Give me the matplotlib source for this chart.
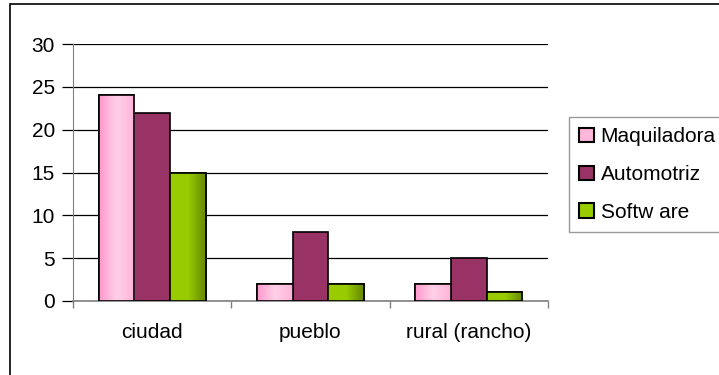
import numpy as np
import matplotlib
matplotlib.use("Agg")
import matplotlib.pyplot as plt
from matplotlib.patches import Rectangle
from matplotlib.colors import LinearSegmentedColormap

# data
categories = ["ciudad", "pueblo", "rural (rancho)"]
series_names = ["Maquiladora", "Automotriz", "Softw are"]
maquiladora = [24, 2, 2]
automotriz = [22, 8, 5]
software = [15, 2, 1]
yticks = [0, 5, 10, 15, 20, 25, 30]

colors = ["#FFB6DB", "#993366", "#99CC00"]
# horizontal shading like the Excel gradient fills (None = flat)
shades = [["#FF99CC", "#FFD1E8", "#FFB3D9"], None, ["#99CC00", "#99CC00", "#668800"]]

plt.rcParams["font.family"] = ["Liberation Sans", "DejaVu Sans"]

W, H = 719, 375
fig = plt.figure(figsize=(W / 100, H / 100), dpi=100)

# outer chart frame (cut off on the right and bottom)
fig.patches.append(Rectangle((10 / W, -0.1), 1.2, 1.1 - 4 / H, transform=fig.transFigure,
                             fill=False, edgecolor="black", linewidth=1.2))

ax = fig.add_axes([73 / W, (H - 301) / H, (548 - 73) / W, (301 - 44) / H])

width = 0.225
x = np.arange(len(categories)) + 0.5
grad = np.linspace(0, 1, 64).reshape(1, -1)
for i, (vals, name) in enumerate(zip([maquiladora, automotriz, software], series_names)):
    bars = ax.bar(x + (i - 1) * width, vals, width, color=colors[i], edgecolor="black",
                  linewidth=1.2, label=name, zorder=3)
    if shades[i] is None:
        continue
    cmap = LinearSegmentedColormap.from_list("s%d" % i, shades[i])
    for b in bars:
        x0, y0 = b.get_x(), b.get_y()
        im = ax.imshow(grad, cmap=cmap, aspect="auto", zorder=3.5,
                       extent=(x0, x0 + b.get_width(), y0, y0 + b.get_height()))
        im.set_clip_path(b)
        # redraw the outline on top of the shading
        ax.add_patch(Rectangle((x0, y0), b.get_width(), b.get_height(), fill=False,
                               edgecolor="black", linewidth=1.2, zorder=4))

ax.set_xlim(0, 3)
ax.set_ylim(0, 30)
ax.set_yticks(yticks)
ax.yaxis.grid(True, color="black", linewidth=0.9, zorder=0)
ax.tick_params(axis="y", direction="out", length=8, width=0.9, color="black",
               labelsize=15, pad=5)

ax.set_xticks([0, 1, 2, 3])
ax.set_xticklabels([])
ax.set_xticks(x, minor=True)
ax.set_xticklabels(categories, minor=True)
ax.tick_params(axis="x", which="major", direction="out", length=5, width=1, color="#808080")
ax.tick_params(axis="x", which="minor", length=0, labelsize=15, pad=16)

for s in ["top", "right"]:
    ax.spines[s].set_visible(False)
ax.spines["left"].set_color("#808080")
ax.spines["bottom"].set_color("#808080")
ax.spines["bottom"].set_linewidth(1.2)

leg = fig.legend(loc="upper left", bbox_to_anchor=(569 / W, 1 - 117 / H),
                 fontsize=15, frameon=True, fancybox=False, handlelength=0.72,
                 handleheight=0.7, handletextpad=0.3, labelspacing=0.9,
                 borderpad=0.5, borderaxespad=0)
leg.get_frame().set_edgecolor("#808080")
leg.get_frame().set_linewidth(1)
for h in leg.legend_handles:
    h.set_linewidth(1.5)

fig.savefig("out.png", dpi=100)
